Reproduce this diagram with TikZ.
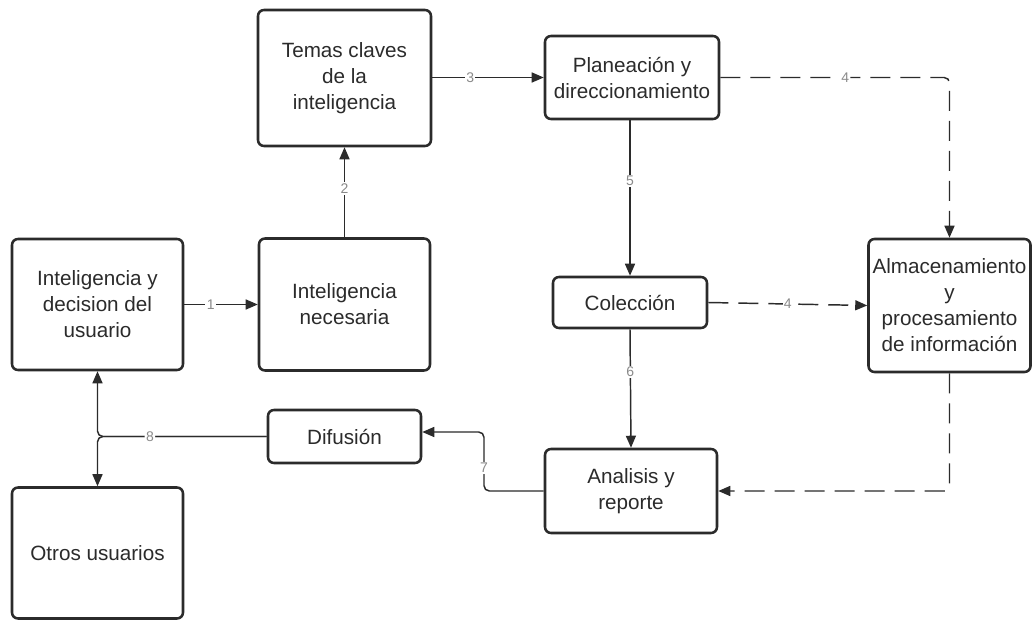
\documentclass[tikz,border=0pt]{standalone}
\usepackage{fontspec}
\setmainfont{Liberation Sans}
\usetikzlibrary{arrows.meta}
\definecolor{ink}{HTML}{2B2B2B}
\definecolor{lblgray}{HTML}{8A8A8A}
\begin{document}
\begin{tikzpicture}[x=0.75pt,y=-0.75pt,
  box/.style={draw=ink, line width=1.9pt, rounded corners=4.5pt, fill=white, inner sep=0pt,
    align=center, text=ink, font=\fontsize{15.5}{19.5}\selectfont},
  conn/.style={draw=ink, line width=1.1pt},
  arr/.style={-{Triangle[length=9pt,width=7.5pt]}},
  dashline/.style={dash pattern=on 15pt off 7.5pt},
  lbl/.style={fill=white, inner sep=1pt, text=lblgray, font=\fontsize{10.5}{11}\selectfont}
]
\useasboundingbox[fill=white] (0,0) rectangle (1032,620);

% nodes
\node[box, minimum width=171*0.75pt, minimum height=131*0.75pt] (dec) at (97.5,304.5) {Inteligencia y\\decision del\\usuario};
\node[box, minimum width=171*0.75pt, minimum height=132*0.75pt] (nec) at (344.5,304.5) {Inteligencia\\necesaria};
\node[box, minimum width=173*0.75pt, minimum height=136*0.75pt] (temas) at (344.5,78) {Temas claves\\de la\\inteligencia};
\node[box, minimum width=174*0.75pt, minimum height=83*0.75pt] (plan) at (632,77.5) {Planeación y\\direccionamiento};
\node[box, minimum width=154*0.75pt, minimum height=51*0.75pt] (col) at (630,302.5) {Colección};
\node[box, minimum width=162*0.75pt, minimum height=133*0.75pt] (alm) at (949.5,305.5) {Almacenamiento\\y\\procesamiento\\de información};
\node[box, minimum width=172*0.75pt, minimum height=84*0.75pt] (ana) at (631,491) {Analisis y\\reporte};
\node[box, minimum width=153*0.75pt, minimum height=53*0.75pt] (dif) at (344.5,436.5) {Difusión};
\node[box, minimum width=171*0.75pt, minimum height=131*0.75pt] (otros) at (97.5,553) {Otros usuarios};

% coordinates
\coordinate (j8) at (dec.south |- dif.west);
\coordinate (c7b) at (484,432);
\coordinate (c7a) at (c7b |- ana.west);
\coordinate (c4a) at (alm.north |- plan.east);
\coordinate (c4b) at (alm.south |- ana.east);

% connectors
\draw[conn,arr] (dec.east) -- node[lbl,pos=0.36]{1} (nec.west);
\draw[conn,arr] (nec.north) -- node[lbl,pos=0.54]{2} (temas.south);
\draw[conn,arr] (temas.east |- plan.west) -- node[lbl,pos=0.34]{3} (plan.west);
\draw[conn,arr,dashline,rounded corners=4pt] (plan.east) -- node[lbl,pos=0.545]{4} (c4a) -- (alm.north);
\draw[conn,arr] (col.north |- plan.south) -- node[lbl,pos=0.39]{5} (col.north);
\draw[conn,arr,dashline] (col.east) -- node[lbl,pos=0.5]{4} (alm.west);
\draw[conn,arr] (col.south) -- node[lbl,pos=0.36]{6} (ana.north);
\draw[conn,arr,dashline,rounded corners=4pt] (alm.south) -- (c4b) -- (ana.east);
\draw[conn,arr,rounded corners=4pt] (ana.west) -- (c7a) -- node[lbl,pos=0.39]{7} (c7b) -- (dif.east |- c7b);
\draw[conn,arr,rounded corners=4pt] (dif.west) -- (j8) -- (dec.south);
\draw[conn,arr,rounded corners=4pt] (dif.west) -- node[lbl,pos=0.69]{8} (j8) -- (otros.north);
\end{tikzpicture}
\end{document}
